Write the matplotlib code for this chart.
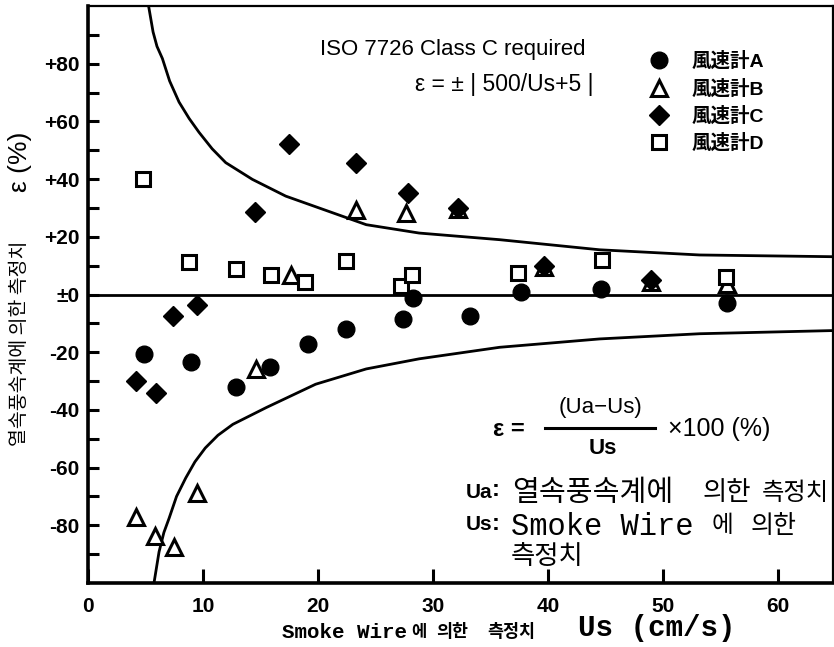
import matplotlib
matplotlib.use('Agg')
import matplotlib.pyplot as plt
from matplotlib.ticker import FixedLocator
from matplotlib.lines import Line2D

# ---------------- data ----------------
a_us = [4.9, 9.0, 12.9, 15.8, 19.1, 22.4, 27.4, 28.3, 33.2, 37.7, 44.6, 55.6]
a_eps = [-20.6, -23.4, -32.0, -25.1, -17.1, -11.9, -8.4, -1.3, -7.6, 1.0, 2.0, -2.8]

b_us = [4.2, 5.8, 7.5, 9.5, 14.6, 17.7, 23.3, 27.7, 32.2, 39.7, 49.0, 55.6]
b_eps = [-77.0, -83.8, -87.6, -68.8, -25.8, 6.6, 29.3, 28.3, 29.5, 9.5, 4.5, 3.8]

c_us = [4.2, 5.9, 7.4, 9.5, 14.5, 17.5, 23.3, 27.8, 32.2, 39.7, 49.0]
c_eps = [-30.0, -34.3, -7.3, -3.8, 28.6, 52.0, 45.7, 35.2, 30.0, 9.8, 5.0]

d_us = [4.8, 8.8, 12.9, 15.9, 18.9, 22.4, 27.2, 28.2, 37.4, 44.7, 55.5]
d_eps = [40.1, 11.2, 8.7, 6.6, 4.5, 11.5, 2.8, 6.6, 7.6, 11.9, 6.2]

# ISO 7726 tolerance curves
up_us = [5.3, 5.66, 6.0, 6.47, 7.1, 7.92, 8.8, 9.66, 10.8, 11.98, 14.3, 17.2, 21.3, 24.2, 28.8, 35.8, 44.5, 53.2, 64.8]
up_eps = [99.3, 91.0, 86.0, 81.8, 74.0, 66.7, 61.0, 56.2, 50.5, 45.7, 39.9, 34.1, 28.3, 24.2, 21.3, 19.0, 15.5, 13.7, 13.1]
lo_us = [5.74, 6.18, 6.6, 7.05, 7.7, 8.5, 9.3, 10.2, 11.3, 12.6, 15.5, 19.8, 24.2, 28.8, 35.8, 44.5, 53.2, 64.8]
lo_eps = [-100.0, -89.2, -82.5, -77.6, -70.0, -63.6, -58.0, -53.2, -48.8, -45.0, -39.2, -31.1, -25.8, -22.3, -18.3, -15.4, -13.6, -12.5]

labels = ['風速計A', '風速計B', '風速計C', '風速計D']
y_major = [-80, -60, -40, -20, 0, 20, 40, 60, 80]
y_ticklabels = ['-80', '-60', '-40', '-20', '±0', '+20', '+40', '+60', '+80']
y_minor = [-90, -70, -50, -30, -10, 10, 30, 50, 70, 90]
x_major = [0, 10, 20, 30, 40, 50, 60]

# ---------------- fonts ----------------
SANS = 'Liberation Sans'
KR = ['Noto Sans CJK KR', 'DejaVu Sans']
JP = 'Noto Sans CJK JP'
MONO = 'Liberation Mono'

W, H = 834, 647
fig = plt.figure(figsize=(W / 100, H / 100), dpi=100)
fig.patch.set_facecolor('white')

def fx(px):
    return px / W

def fy(py):
    return 1 - py / H

ax = fig.add_axes([fx(88), fy(583), (833 - 88) / W, (583 - 6) / H])
ax.set_xlim(0, 64.8)
ax.set_ylim(-100, 100)

# curves
ax.plot(up_us, up_eps, color='black', lw=2.0, solid_joinstyle='round')
ax.plot(lo_us, lo_eps, color='black', lw=2.0, solid_joinstyle='round')
ax.axhline(0, color='black', lw=2.0)

# data series
hA, = ax.plot(a_us, a_eps, 'o', ms=12, color='black', mec='black', ls='none', label=labels[0])
hB, = ax.plot(b_us, b_eps, '^', ms=11, mfc='white', mec='black', mew=2.2, ls='none', label=labels[1])
hC, = ax.plot(c_us, c_eps, 'D', ms=10, color='black', mec='black', ls='none', label=labels[2])
hD, = ax.plot(d_us, d_eps, 's', ms=10, mfc='white', mec='black', mew=2.2, ls='none', label=labels[3])

# spines
for s in ['left', 'bottom']:
    ax.spines[s].set_linewidth(2.6)
for s in ['top', 'right']:
    ax.spines[s].set_linewidth(1.6)

ax.yaxis.set_major_locator(FixedLocator(y_major))
ax.yaxis.set_minor_locator(FixedLocator(y_minor))
ax.set_yticklabels(y_ticklabels)
ax.xaxis.set_major_locator(FixedLocator(x_major))
ax.set_xticklabels([str(v) for v in x_major])

ax.tick_params(axis='y', which='both', direction='in', length=8, width=2.2, pad=6,
               right=False, labelsize=15)
ax.tick_params(axis='x', which='both', direction='in', length=10, width=2.2, pad=10,
               top=False, labelsize=15)
for lab in ax.get_yticklabels() + ax.get_xticklabels():
    lab.set_family(SANS)
    lab.set_weight('bold')

# legend
leg = ax.legend(handles=[hA, hB, hC, hD], loc='upper left',
                bbox_to_anchor=((649 - 88) / 745, 1 - (52 - 6) / 577),
                frameon=False, handlelength=1.0, handletextpad=1.2,
                labelspacing=0.42, borderpad=0, borderaxespad=0,
                prop={'family': [SANS, JP], 'weight': 'bold', 'size': 14})

# annotations
fig.text(fx(320), fy(49), 'ISO 7726 Class C required', family=SANS, size=16,
         ha='left', va='center')
fig.text(fx(415), fy(85), 'ε = ± | 500/Us+5 |', family=SANS, size=16.5,
         ha='left', va='center')

# formula
fig.text(fx(493), fy(430), 'ε =', family=SANS, size=17, ha='left', va='center', weight='bold')
fig.text(fx(600), fy(407), '(Ua−Us)', family=SANS, size=16, ha='center', va='center')
fig.text(fx(603), fy(449), 'Us', family=SANS, size=16, ha='center', va='center', weight='bold')
fig.add_artist(Line2D([fx(545), fx(655)], [fy(428), fy(428)], color='black', lw=2.2,
                      transform=fig.transFigure))
fig.text(fx(668), fy(429), '×100 (%)', family=SANS, size=18, ha='left', va='center')

fig.text(fx(466), fy(492), 'Ua', family=SANS, size=15, ha='left', va='center', weight='bold')
fig.text(fx(492), fy(490), ':', family=SANS, size=17, ha='left', va='center', weight='bold')
fig.text(fx(512), fy(493), '열속풍속계에', family=KR, size=21, ha='left', va='center')
fig.text(fx(703), fy(493), '의한', family=KR, size=19, ha='left', va='center')
fig.text(fx(762), fy(493), '측정치', family=KR, size=17.5, ha='left', va='center')

fig.text(fx(466), fy(525), 'Us', family=SANS, size=15, ha='left', va='center', weight='bold')
fig.text(fx(492), fy(523), ':', family=SANS, size=17, ha='left', va='center', weight='bold')
fig.text(fx(511), fy(527), 'Smoke Wire', family=MONO, size=22, ha='left', va='center')
fig.text(fx(712), fy(526), '에', family=KR, size=17, ha='left', va='center')
fig.text(fx(751), fy(526), '의한', family=KR, size=18, ha='left', va='center')
fig.text(fx(511), fy(556), '측정치', family=KR, size=19, ha='left', va='center')

# axis titles
fig.text(fx(282), fy(632), 'Smoke Wire', family=MONO, size=15, weight='bold',
         ha='left', va='center')
fig.text(fx(411), fy(632), '에', family=KR, size=12, weight='bold', ha='left', va='center')
fig.text(fx(436), fy(632), '의한', family=KR, size=12.5, weight='bold', ha='left', va='center')
fig.text(fx(487), fy(632), '측정치', family=KR, size=12.5, weight='bold', ha='left', va='center')
fig.text(fx(578), fy(628), 'Us (cm/s)', family=MONO, size=21, weight='bold',
         ha='left', va='center')

fig.text(fx(20), fy(343), '열속풍속계에 의한 측정치', family=KR, size=14,
         rotation=90, ha='center', va='center')
fig.text(fx(20), fy(162), 'ε (%)', family=[SANS, 'DejaVu Sans'], size=19,
         rotation=90, ha='center', va='center')

fig.savefig('out.png', dpi=100, facecolor='white')
